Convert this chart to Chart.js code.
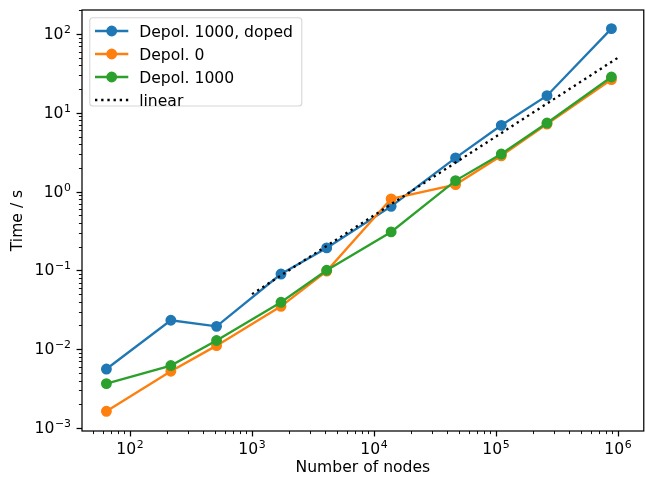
<!DOCTYPE html>
<html><head><meta charset="utf-8">
<script src="https://cdn.jsdelivr.net/npm/chart.js@4/dist/chart.umd.min.js"></script>
<style>html,body{margin:0;padding:0;overflow:hidden;background:#fff}canvas{display:block}</style>
</head><body>
<canvas id="c" width="650" height="477"></canvas>
<script>
// ---- data ----
const nodes = [64, 216, 512, 1728, 4096, 13824, 46656, 110592, 262144, 884736];
const depol1000Doped = [0.0056, 0.0233, 0.0195, 0.090, 0.193, 0.65, 2.68, 6.94, 16.5, 117];
const depol0 = [0.00163, 0.00525, 0.0111, 0.035, 0.098, 0.81, 1.23, 2.85, 7.2, 26.4];
const depol1000 = [0.00366, 0.0062, 0.0129, 0.0394, 0.1005, 0.308, 1.38, 3.0, 7.42, 28.5];
const linearX = [1000, 1000000];
const linearY = [0.05, 50];
const seriesLabels = ['Depol. 1000, doped', 'Depol. 0', 'Depol. 1000', 'linear'];
const xTickExps = [2, 3, 4, 5, 6];
const yTickExps = [-3, -2, -1, 0, 1, 2];
const xLimits = [Math.pow(10, 1.606), Math.pow(10, 6.212)];
const yLimits = [Math.pow(10, -3.038), Math.pow(10, 2.305)];

const SUP = {'-':'\u207B','0':'\u2070','1':'\u00B9','2':'\u00B2','3':'\u00B3','4':'\u2074','5':'\u2075','6':'\u2076','7':'\u2077','8':'\u2078','9':'\u2079'};
function supStr(n){ return String(n).split('').map(c => SUP[c]).join(''); }
function pts(xs, ys){ return xs.map((x, i) => ({x: x, y: ys[i]})); }
function powExp(v){ const e = Math.round(Math.log10(v)); return Math.abs(v / Math.pow(10, e) - 1) < 1e-9 ? e : null; }
function buildLogTicks(scale, exps){
  const t = [];
  const lo = Math.floor(Math.log10(scale.min)), hi = Math.ceil(Math.log10(scale.max));
  for (let n = lo; n <= hi; n++) for (let k = 1; k <= 9; k++) {
    const v = k * Math.pow(10, n);
    if (v >= scale.min && v <= scale.max) t.push({value: v, major: k === 1 && exps.includes(n)});
  }
  scale.ticks = t;
}
function labelFor(exps){
  return function(v){ const e = powExp(v); return (e !== null && exps.includes(e)) ? '10' + supStr(e) : ''; };
}

const C0 = '#1f77b4', C1 = '#ff7f0e', C2 = '#2ca02c';
const FS = 15.6, SUP_FS = 10.9;
Chart.defaults.font.family = 'DejaVu Sans';
Chart.defaults.font.size = FS;
Chart.defaults.color = '#000';

function ds(label, data, color, order){
  return {label, data, borderColor: color, backgroundColor: color, borderWidth: 2.33,
    pointRadius: 4.67, pointHoverRadius: 4.67, pointBorderWidth: 1.56, pointBackgroundColor: color,
    pointBorderColor: color, order, fill: false, tension: 0};
}

function drawPow(ctx, e, x, baseline, align){
  const base = '10', ex = String(e).replace('-', '\u2212');
  ctx.font = FS + 'px "DejaVu Sans"';
  const wb = ctx.measureText(base).width;
  ctx.font = SUP_FS + 'px "DejaVu Sans"';
  const we = ctx.measureText(ex).width;
  const gap = 0.6;
  const tot = wb + gap + we;
  const x0 = align === 'center' ? x - tot / 2 : x - tot;
  ctx.textAlign = 'left'; ctx.textBaseline = 'alphabetic';
  ctx.font = FS + 'px "DejaVu Sans"';
  ctx.fillText(base, x0, baseline);
  ctx.font = SUP_FS + 'px "DejaVu Sans"';
  ctx.fillText(ex, x0 + wb + gap, baseline - 6);
}

const mplPlugin = {
  id: 'mpl',
  afterDraw(chart){
    const ctx = chart.ctx, a = chart.chartArea;
    ctx.save();
    const xs = chart.scales.x, ys = chart.scales.y;
    ctx.strokeStyle = '#000'; ctx.fillStyle = '#000';
    xs.ticks.forEach(t => {
      const px = xs.getPixelForValue(t.value);
      const p = Math.round(px) + 0.5;
      ctx.lineWidth = t.major ? 1.24 : 0.93;
      const L = t.major ? 5.45 : 3.1;
      ctx.beginPath(); ctx.moveTo(p, a.bottom); ctx.lineTo(p, a.bottom + L); ctx.stroke();
      if (t.major && t.label) drawPow(ctx, powExp(t.value), px, a.bottom + 23.3, 'center');
    });
    ys.ticks.forEach(t => {
      const py = ys.getPixelForValue(t.value);
      const p = Math.round(py) + 0.5;
      ctx.lineWidth = t.major ? 1.24 : 0.93;
      const L = t.major ? 5.45 : 3.1;
      ctx.beginPath(); ctx.moveTo(a.left, p); ctx.lineTo(a.left - L, p); ctx.stroke();
      if (t.major && t.label) drawPow(ctx, powExp(t.value), a.left - 11, py + 5, 'right');
    });
    // spines
    ctx.lineWidth = 1.24;
    ctx.strokeRect(a.left, a.top, a.right - a.left, a.bottom - a.top);
    // legend
    const bx = 89.8, by = 17.7, bw = 212, bh = 88.3, r = 3;
    ctx.beginPath();
    ctx.moveTo(bx + r, by); ctx.lineTo(bx + bw - r, by); ctx.arcTo(bx + bw, by, bx + bw, by + r, r);
    ctx.lineTo(bx + bw, by + bh - r); ctx.arcTo(bx + bw, by + bh, bx + bw - r, by + bh, r);
    ctx.lineTo(bx + r, by + bh); ctx.arcTo(bx, by + bh, bx, by + bh - r, r);
    ctx.lineTo(bx, by + r); ctx.arcTo(bx, by, bx + r, by, r); ctx.closePath();
    ctx.fillStyle = 'rgba(255,255,255,0.8)'; ctx.fill();
    ctx.strokeStyle = 'rgba(204,204,204,0.8)'; ctx.lineWidth = 1.1; ctx.stroke();
    ctx.font = FS + 'px "DejaVu Sans"';
    ctx.textBaseline = 'alphabetic'; ctx.textAlign = 'left';
    chart.data.datasets.forEach((d, i) => {
      const y = 31 + i * 23;
      ctx.strokeStyle = d.borderColor; ctx.lineWidth = d.borderWidth;
      ctx.setLineDash(d.borderDash || []); ctx.lineCap = 'butt';
      ctx.beginPath(); ctx.moveTo(95, y); ctx.lineTo(128.3, y); ctx.stroke();
      ctx.setLineDash([]);
      if (d.pointRadius > 0) {
        ctx.beginPath(); ctx.arc(111.7, y, d.pointRadius, 0, Math.PI * 2);
        ctx.fillStyle = d.pointBackgroundColor; ctx.fill();
        ctx.lineWidth = d.pointBorderWidth; ctx.strokeStyle = d.pointBorderColor; ctx.stroke();
      }
      ctx.fillStyle = '#000';
      ctx.fillText(d.label, 139.2, y + 5.7);
    });
    ctx.restore();
  }
};

new Chart(document.getElementById('c'), {
  type: 'line',
  data: {
    datasets: [
      ds(seriesLabels[0], pts(nodes, depol1000Doped), C0, 3),
      ds(seriesLabels[1], pts(nodes, depol0), C1, 2),
      ds(seriesLabels[2], pts(nodes, depol1000), C2, 1),
      {label: seriesLabels[3], data: pts(linearX, linearY), borderColor: '#000', backgroundColor: '#000',
       borderWidth: 2.33, borderDash: [2.33, 3.85], borderCapStyle: 'butt', pointRadius: 0, pointHoverRadius: 0, order: 0, fill: false}
    ]
  },
  options: {
    responsive: false, animation: false,
    layout: {padding: {left: 0, top: 10, right: 4, bottom: 0}},
    plugins: {legend: {display: false}, tooltip: {enabled: false}},
    events: [],
    scales: {
      x: {
        type: 'logarithmic', min: xLimits[0], max: xLimits[1],
        grid: {display: false, drawTicks: false}, border: {display: false},
        ticks: {display: false, autoSkip: false, maxRotation: 0, callback: labelFor(xTickExps)},
        afterBuildTicks: s => buildLogTicks(s, xTickExps),
        afterFit: s => { s.height = 46; s.paddingLeft = 0; s.paddingRight = 0; },
        title: {display: true, text: 'Number of nodes', padding: {top: 0, bottom: 0}}
      },
      y: {
        type: 'logarithmic', min: yLimits[0], max: yLimits[1],
        grid: {display: false, drawTicks: false}, border: {display: false},
        ticks: {display: false, autoSkip: false, callback: labelFor(yTickExps)},
        afterBuildTicks: s => buildLogTicks(s, yTickExps),
        afterFit: s => { s.width = 82; s.paddingTop = 0; s.paddingBottom = 0; },
        title: {display: true, text: 'Time / s', padding: {top: 9, bottom: 0}}
      }
    }
  },
  plugins: [mplPlugin]
});
</script>
</body></html>
